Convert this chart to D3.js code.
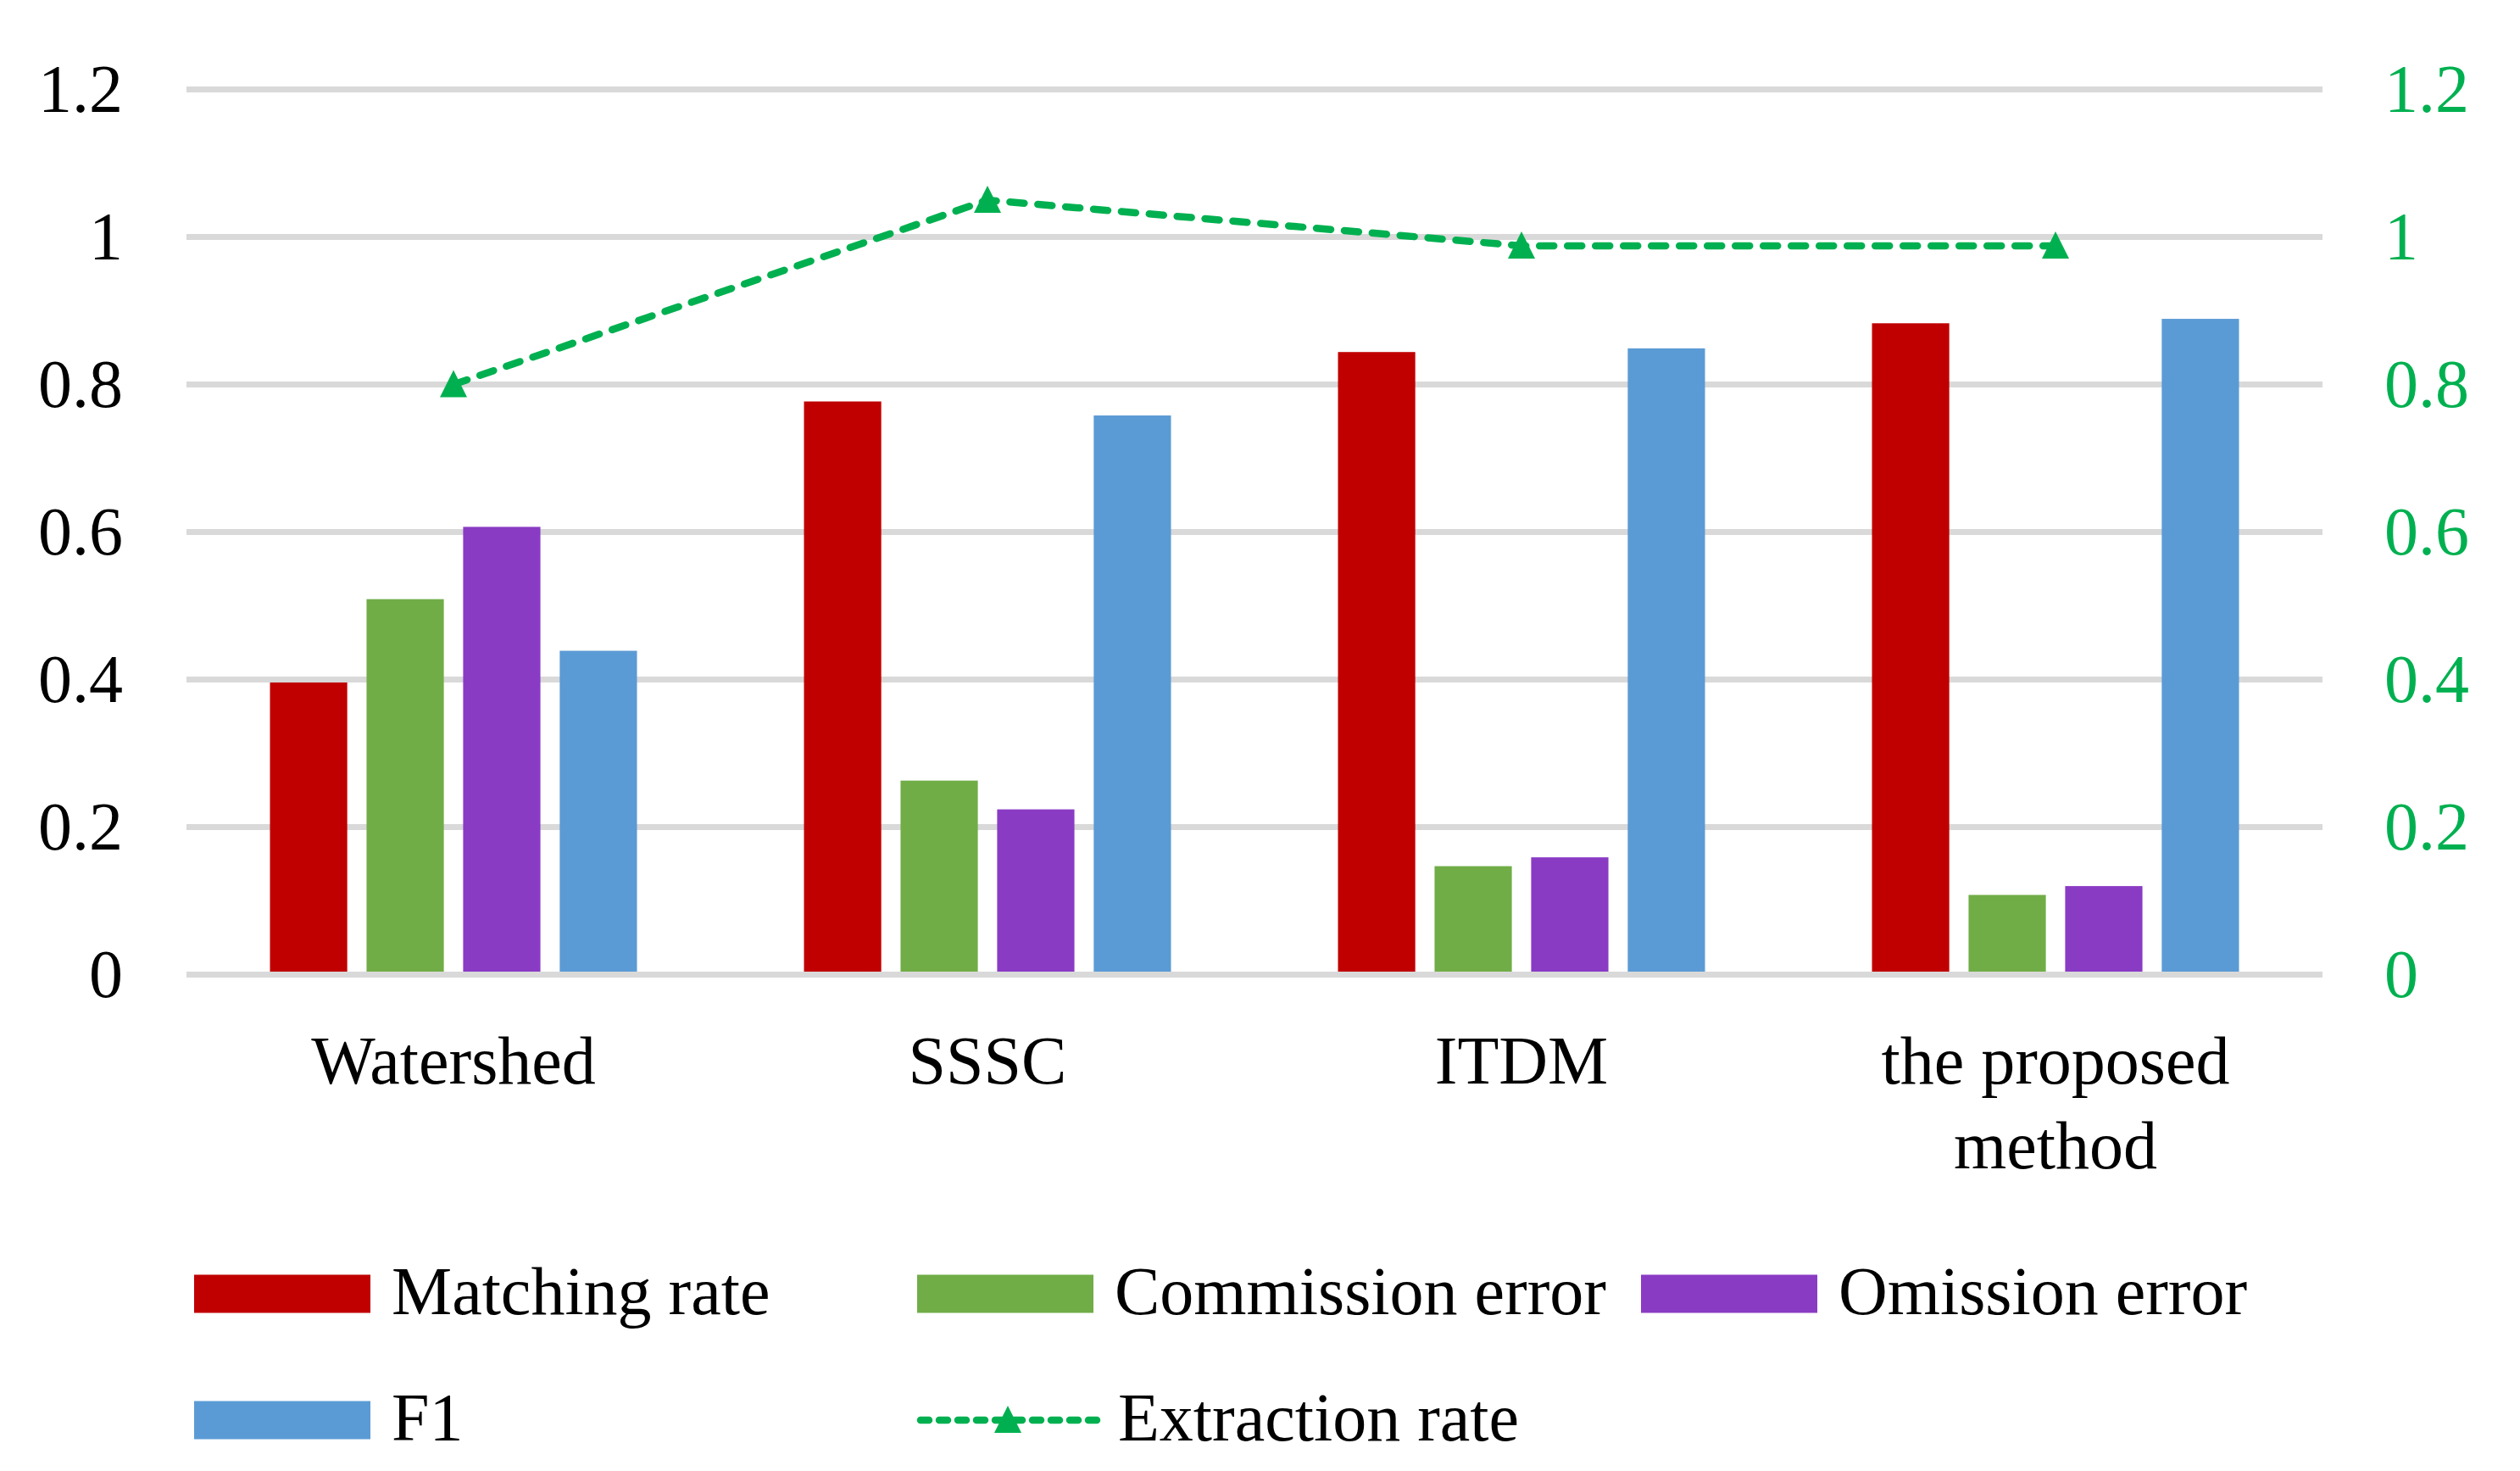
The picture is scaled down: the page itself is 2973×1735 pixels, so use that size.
<!DOCTYPE html>
<html>
<head>
<meta charset="utf-8">
<script src="https://cdn.jsdelivr.net/npm/d3@7"></script>
<style>
  html, body { margin: 0; padding: 0; background: #fff; }
  svg { display: block; }
  text { font-family: "Liberation Serif", "DejaVu Serif", serif; }
</style>
</head>
<body>
<svg id="chart" width="2973" height="1735"></svg>
<script>
// ---- data ----
const categories = ["Watershed", "SSSC", "ITDM", "the proposed method"];
const barSeries = ["Matching rate", "Commission error", "Omission error", "F1"];
const matchingRate    = [0.396, 0.777, 0.844, 0.883];
const commissionError = [0.509, 0.263, 0.147, 0.108];
const omissionError   = [0.607, 0.224, 0.159, 0.120];
const f1              = [0.439, 0.758, 0.849, 0.889];
const extractionRate  = [0.80, 1.05, 0.988, 0.988];
const leftTicks  = [0, 0.2, 0.4, 0.6, 0.8, 1, 1.2];
const rightTicks = [0, 0.2, 0.4, 0.6, 0.8, 1, 1.2];

const barValues = [matchingRate, commissionError, omissionError, f1];
const barColors = ["#c00000", "#70ad47", "#8a3bc4", "#5b9bd5"];
const lineColor = "#00b050";

// ---- layout ----
const svg = d3.select("#chart");
const plot = { left: 220, right: 2740, top: 105.5, bottom: 1149.5 };
const fontSize = 80;

const x = d3.scaleBand().domain(categories).range([plot.left, plot.right]).padding(0);
const groupPad = (x.bandwidth() - 433) / 2;
const xi = d3.scaleBand().domain(barSeries)
  .range([groupPad, x.bandwidth() - groupPad]).paddingInner(0.2).paddingOuter(0);
const yL = d3.scaleLinear().domain([0, 1.2]).range([plot.bottom, plot.top]);
const yR = d3.scaleLinear().domain([0, 1.2]).range([plot.bottom, plot.top]);

// gridlines
svg.append("g").selectAll("line").data(leftTicks).join("line")
  .attr("x1", plot.left).attr("x2", plot.right)
  .attr("y1", d => yL(d)).attr("y2", d => yL(d))
  .attr("stroke", "#d9d9d9").attr("stroke-width", 7);

// left axis
const leftAxis = d3.axisLeft(yL).tickValues(leftTicks).tickSize(0).tickPadding(0)
  .tickFormat(d => d3.format("~g")(d));
const gL = svg.append("g").attr("transform", `translate(145,0)`).call(leftAxis);
gL.select(".domain").remove();
gL.selectAll("text").attr("font-size", fontSize).attr("fill", "#000")
  .attr("font-family", "Liberation Serif").attr("dy", "0.32em");

// right axis
const rightAxis = d3.axisRight(yR).tickValues(rightTicks).tickSize(0).tickPadding(0)
  .tickFormat(d => d3.format("~g")(d));
const gR = svg.append("g").attr("transform", `translate(2813,0)`).call(rightAxis);
gR.select(".domain").remove();
gR.selectAll("text").attr("font-size", fontSize).attr("fill", lineColor)
  .attr("font-family", "Liberation Serif").attr("dy", "0.32em");

// bars
const groups = svg.append("g").selectAll("g").data(categories).join("g")
  .attr("transform", d => `translate(${x(d)},0)`);
groups.selectAll("rect")
  .data((c, ci) => barSeries.map((s, si) => ({ s, si, v: barValues[si][ci] })))
  .join("rect")
  .attr("x", d => xi(d.s))
  .attr("width", xi.bandwidth())
  .attr("y", d => yL(d.v))
  .attr("height", d => yL(0) - yL(d.v) - 3.5)
  .attr("fill", d => barColors[d.si]);

// extraction rate line
const triPath = "M0,-17 L16,15 L-16,15 Z";
const line = d3.line().x((d, i) => x(categories[i]) + x.bandwidth() / 2).y(d => yR(d));
svg.append("path").datum(extractionRate)
  .attr("d", line).attr("fill", "none").attr("stroke", lineColor)
  .attr("stroke-width", 8.5).attr("stroke-dasharray", "17 16").attr("stroke-linecap", "round");
svg.append("g").selectAll("path").data(extractionRate).join("path")
  .attr("d", triPath)
  .attr("transform", (d, i) => `translate(${x(categories[i]) + x.bandwidth() / 2},${yR(d)})`)
  .attr("fill", lineColor);

// category labels with wrapping
const catG = svg.append("g");
categories.forEach(c => {
  const t = catG.append("text")
    .attr("x", x(c) + x.bandwidth() / 2).attr("y", 1278)
    .attr("text-anchor", "middle").attr("font-size", fontSize).attr("fill", "#000");
  const words = c.split(" ");
  let lineWords = [];
  let tspan = t.append("tspan").attr("x", x(c) + x.bandwidth() / 2).attr("dy", 0);
  words.forEach(w => {
    lineWords.push(w);
    tspan.text(lineWords.join(" "));
    if (tspan.node().getComputedTextLength() > 500 && lineWords.length > 1) {
      lineWords.pop();
      tspan.text(lineWords.join(" "));
      lineWords = [w];
      tspan = t.append("tspan").attr("x", x(c) + x.bandwidth() / 2).attr("dy", 100).text(w);
    }
  });
});

// legend
const legendItems = [
  { name: "Matching rate", type: "bar", color: barColors[0], col: 0, row: 0 },
  { name: "Commission error", type: "bar", color: barColors[1], col: 1, row: 0 },
  { name: "Omission error", type: "bar", color: barColors[2], col: 2, row: 0 },
  { name: "F1", type: "bar", color: barColors[3], col: 0, row: 1 },
  { name: "Extraction rate", type: "line", color: lineColor, col: 1, row: 1 }
];
const legendX = [229, 1082, 1936];
const legendY = [1526, 1675];
const lg = svg.append("g").selectAll("g").data(legendItems).join("g")
  .attr("transform", d => `translate(${legendX[d.col]},${legendY[d.row]})`);
lg.filter(d => d.type === "bar").append("rect")
  .attr("x", 0).attr("y", -22.5).attr("width", 208).attr("height", 45)
  .attr("fill", d => d.color);
lg.filter(d => d.type === "line").append("line")
  .attr("x1", 4).attr("x2", 214).attr("y1", 0).attr("y2", 0)
  .attr("stroke", d => d.color).attr("stroke-width", 8.5)
  .attr("stroke-dasharray", "10 12").attr("stroke-linecap", "round");
lg.filter(d => d.type === "line").append("path")
  .attr("d", triPath).attr("transform", "translate(107,0)")
  .attr("fill", d => d.color);
lg.append("text")
  .attr("x", d => d.type === "bar" ? 233 : 237).attr("y", 24)
  .attr("font-size", fontSize).attr("fill", "#000").text(d => d.name);
</script>
</body>
</html>
